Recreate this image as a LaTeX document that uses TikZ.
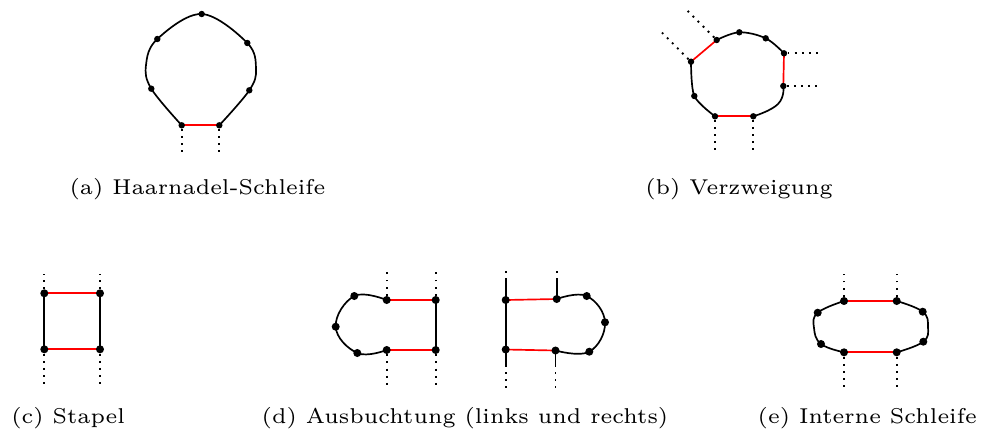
\documentclass[tikz,border=0pt]{standalone}
\pgfdeclarelayer{bg}
\pgfsetlayers{bg,main}
\newcommand{\captext}[1]{\scalebox{2.45}{\fontsize{6}{7}\selectfont #1}}
\begin{document}
\begin{tikzpicture}[x=0.685pt,y=-0.685pt,
  dotA/.style={circle,fill=black,inner sep=0pt,minimum size=4.4pt},
  dotB/.style={circle,fill=black,inner sep=0pt,minimum size=5.5pt},
  pair/.style={red,line width=1.15pt},
  strand/.style={black,line width=1.15pt},
  ext/.style={black,line width=1.3pt,dash pattern=on 1.3pt off 3.6pt},
  captxt/.style={anchor=base,inner sep=0pt}]
\useasboundingbox (0,0) rectangle (982,441);

% ---------- (a) hairpin ----------
\node[dotA] (a1) at (181.7,125.3) {};
\node[dotA] (a2) at (151.3,88.7) {};
\node[dotA] (a3) at (157.3,39) {};
\node[dotA] (a4) at (201.7,14) {};
\node[dotA] (a5) at (247.3,43) {};
\node[dotA] (a6) at (249.3,90.3) {};
\node[dotA] (a7) at (219.3,125.3) {};
\coordinate (al) at (146,65);
\coordinate (ar) at (256,69);
\coordinate (a1e) at (181.7,155);
\coordinate (a7e) at (219.3,155);
\begin{pgfonlayer}{bg}
\draw[strand] plot[smooth,tension=0.6] coordinates {(a1.center) (a2.center) (al) (a3.center) (a4.center) (a5.center) (ar) (a6.center) (a7.center)};
\draw[pair] (a1.center) -- (a7.center);
\draw[ext] (a1) -- (a1e);
\draw[ext] (a7) -- (a7e);
\end{pgfonlayer}
\node[captxt] (capa) at (197.5,194) {\captext{(a)\ Haarnadel-Schleife}};

% ---------- (b) multiloop ----------
\node[dotA] (b1) at (716.7,40) {};
\node[dotA] (b2) at (739.3,32.3) {};
\node[dotA] (b3) at (765.7,38.3) {};
\node[dotA] (b4) at (784,53.3) {};
\node[dotA] (b5) at (783.3,86) {};
\node[dotA] (b6) at (753.3,116.3) {};
\node[dotA] (b7) at (715,116.3) {};
\node[dotA] (b8) at (694.3,96) {};
\node[dotA] (b9) at (691,61.7) {};
\coordinate (bm) at (778,104);
\coordinate (b1e) at (686.7,10);
\coordinate (b9e) at (661.7,32.3);
\coordinate (b4e) at (820,53.3);
\coordinate (b5e) at (820,86);
\coordinate (b6e) at (753.3,153);
\coordinate (b7e) at (715,153);
\begin{pgfonlayer}{bg}
\draw[strand] plot[smooth,tension=0.6] coordinates {(b1.center) (b2.center) (b3.center) (b4.center)};
\draw[strand] plot[smooth,tension=0.85] coordinates {(b5.center) (bm) (b6.center)};
\draw[strand] plot[smooth,tension=0.5] coordinates {(b7.center) (b8.center) (b9.center)};
\draw[pair] (b9.center) -- (b1.center);
\draw[pair] (b4.center) -- (b5.center);
\draw[pair] (b6.center) -- (b7.center);
\draw[ext] (b1) -- (b1e);
\draw[ext] (b9) -- (b9e);
\draw[ext] (b4) -- (b4e);
\draw[ext] (b5) -- (b5e);
\draw[ext] (b6) -- (b6e);
\draw[ext] (b7) -- (b7e);
\end{pgfonlayer}
\node[captxt,anchor=base west] (capb) at (645,194) {\captext{(b)\ Verzweigung}};

% ---------- (c) stack ----------
\node[dotB] (c1) at (44.3,293.3) {};
\node[dotB] (c2) at (100,293.3) {};
\node[dotB] (c3) at (44.3,349.3) {};
\node[dotB] (c4) at (100,349.3) {};
\coordinate (c1e) at (44.3,274);
\coordinate (c2e) at (100,274);
\coordinate (c3e) at (44.3,389);
\coordinate (c4e) at (100,389);
\begin{pgfonlayer}{bg}
\draw[pair] (c1.center) -- (c2.center);
\draw[pair] (c3.center) -- (c4.center);
\draw[strand] (c1.center) -- (c3.center);
\draw[strand] (c2.center) -- (c4.center);
\draw[ext] (c1) -- (c1e);
\draw[ext] (c2) -- (c2e);
\draw[ext] (c3) -- (c3e);
\draw[ext] (c4) -- (c4e);
\end{pgfonlayer}
\node[captxt,anchor=base west] (capc) at (11,423) {\captext{(c)\ Stapel}};

% ---------- (d) bulge left ----------
\node[dotB] (d1) at (386.7,300) {};
\node[dotB] (d2) at (435.7,300) {};
\node[dotB] (d3) at (386.7,350) {};
\node[dotB] (d4) at (435.7,350) {};
\node[dotB] (d5) at (354.3,296) {};
\node[dotB] (d6) at (335.7,326.7) {};
\node[dotB] (d7) at (357.3,353) {};
\coordinate (d1e) at (386.7,271);
\coordinate (d2e) at (435.7,271);
\coordinate (d3e) at (386.7,389);
\coordinate (d4e) at (435.7,389);
\begin{pgfonlayer}{bg}
\draw[strand] plot[smooth,tension=0.7] coordinates {(d1.center) (d5.center) (d6.center) (d7.center) (d3.center)};
\draw[pair] (d1.center) -- (d2.center);
\draw[pair] (d3.center) -- (d4.center);
\draw[strand] (d2.center) -- (d4.center);
\draw[ext] (d1) -- (d1e);
\draw[ext] (d2) -- (d2e);
\draw[ext] (d3) -- (d3e);
\draw[ext] (d4) -- (d4e);
\end{pgfonlayer}

% ---------- (d) bulge right ----------
\node[dotB] (f1) at (505.7,300) {};
\node[dotB] (f2) at (556.7,299) {};
\node[dotB] (f3) at (505.7,349.5) {};
\node[dotB] (f4) at (555.5,350.5) {};
\node[dotB] (f5) at (586.7,296) {};
\node[dotB] (f6) at (605,322.3) {};
\node[dotB] (f7) at (589.3,351.7) {};
\coordinate (f1s) at (505.7,280);
\coordinate (f1t) at (505.7,271);
\coordinate (f3s) at (505.7,365);
\coordinate (f3t) at (505.7,389);
\coordinate (f2s) at (556.7,280);
\coordinate (f2t) at (556.7,271);
\coordinate (f4s) at (555.5,365);
\coordinate (f4t) at (555.5,389);
\begin{pgfonlayer}{bg}
\draw[strand] plot[smooth,tension=0.7] coordinates {(f2.center) (f5.center) (f6.center) (f7.center) (f4.center)};
\draw[pair] (f1.center) -- (f2.center);
\draw[pair] (f3.center) -- (f4.center);
\draw[strand] (f1s) -- (f3s);
\draw[strand] (f2s) -- (f2.center);
\draw[strand] (f4.center) -- (f4s);
\draw[ext] (f1s) -- (f1t);
\draw[ext] (f3s) -- (f3t);
\draw[ext] (f2s) -- (f2t);
\draw[ext] (f4s) -- (f4t);
\end{pgfonlayer}
\node[captxt] (capd) at (465,423) {\captext{(d)\ Ausbuchtung (links und rechts)}};

% ---------- (e) interior loop ----------
\node[dotB] (g1) at (844,301) {};
\node[dotB] (g2) at (896.7,301) {};
\node[dotB] (g3) at (844,352.3) {};
\node[dotB] (g4) at (896.7,352.3) {};
\node[dotB] (g5) at (817.7,312.7) {};
\node[dotB] (g6) at (821,344) {};
\node[dotB] (g7) at (922.7,311.7) {};
\node[dotB] (g8) at (923.3,341.7) {};
\coordinate (gl) at (814,328);
\coordinate (gr) at (928,327);
\coordinate (g1e) at (844,274);
\coordinate (g2e) at (896.7,274);
\coordinate (g3e) at (844,389);
\coordinate (g4e) at (896.7,389);
\begin{pgfonlayer}{bg}
\draw[strand] plot[smooth,tension=0.7] coordinates {(g1.center) (g5.center) (gl) (g6.center) (g3.center)};
\draw[strand] plot[smooth,tension=0.7] coordinates {(g2.center) (g7.center) (gr) (g8.center) (g4.center)};
\draw[pair] (g1.center) -- (g2.center);
\draw[pair] (g3.center) -- (g4.center);
\draw[ext] (g1) -- (g1e);
\draw[ext] (g2) -- (g2e);
\draw[ext] (g3) -- (g3e);
\draw[ext] (g4) -- (g4e);
\end{pgfonlayer}
\node[captxt,anchor=base east] (cape) at (977,423) {\captext{(e)\ Interne Schleife}};
\end{tikzpicture}
\end{document}
